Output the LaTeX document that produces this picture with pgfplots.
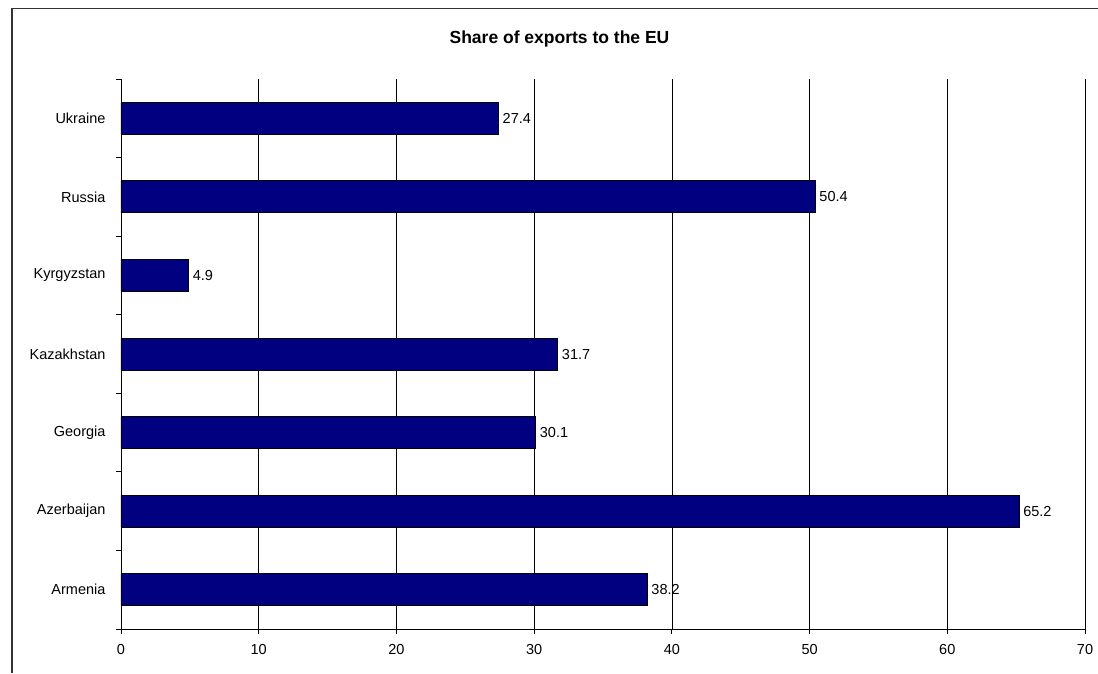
\documentclass[border=0pt]{standalone}
\usepackage{fontspec}
\setmainfont{Liberation Sans}
\usepackage{pgfplots}
\pgfplotsset{compat=1.18}
\definecolor{barblue}{RGB}{0,0,128}
\begin{document}
\begin{tikzpicture}[x=1pt,y=1pt]
\path[use as bounding box] (0,0) rectangle (1098,-673);
\draw[line width=1.3pt, black!80] (12,-673) -- (12,-8.5) -- (1098,-8.5);
\node[font=\fontsize{17.5}{20}\selectfont\bfseries] at (559.5,-39) {Share of exports to the EU};
\begin{axis}[
  at={(121pt,-629pt)}, anchor=south west,
  scale only axis, width=964pt, height=550pt,
  xmin=0, xmax=70, ymin=-0.5, ymax=6.5,
  xbar, bar width=32pt,
  axis x line*=bottom, axis y line*=left,
  axis line style={black, line width=0.8pt},
  xtick={0,10,...,70},
  ytick={0,...,6},
  yticklabels={Armenia,Azerbaijan,Georgia,Kazakhstan,Kyrgyzstan,Russia,Ukraine},
  minor ytick={-0.5,0.5,...,6.5},
  tick align=outside,
  major tick length=5pt, minor tick length=5pt,
  major y tick style={draw=none},
  tick style={black, line width=0.8pt},
  xmajorgrids=true,
  grid style={black, line width=0.7pt},
  ticklabel style={font=\fontsize{14.5}{17}\selectfont},
  /pgf/number format/assume math mode=true,
  yticklabel style={xshift=-7pt},
  xticklabel style={yshift=-7pt},
  point meta=x,
  nodes near coords={\pgfmathprintnumber[fixed,fixed zerofill,precision=1,assume math mode=true]{\pgfplotspointmeta}},
  every node near coord/.append style={font=\fontsize{14.5}{17}\selectfont, anchor=west, inner sep=0pt, xshift=4pt, black},
]
\addplot[fill=barblue, draw=black, line width=0.8pt] coordinates {
  (38.2,0) (65.2,1) (30.1,2) (31.7,3) (4.9,4) (50.4,5) (27.4,6)
};
\end{axis}
\end{tikzpicture}
\end{document}
